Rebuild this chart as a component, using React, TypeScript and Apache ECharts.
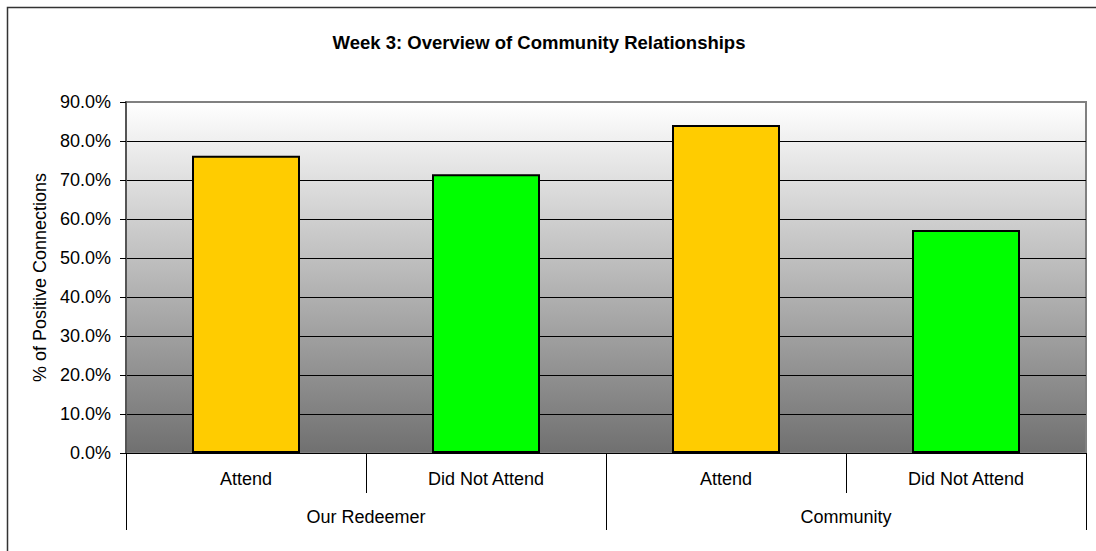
import React, { useEffect, useRef } from "react";
import * as echarts from "echarts";

const categories = ["Attend", "Did Not Attend", "Attend", "Did Not Attend"];
const groups = ["Our Redeemer", "Community"];
const values = [0.762, 0.715, 0.841, 0.572];
const barColors = ["#FFCC00", "#00FF00", "#FFCC00", "#00FF00"];
const yTicks = [0, 0.1, 0.2, 0.3, 0.4, 0.5, 0.6, 0.7, 0.8, 0.9];

const FONT = "Liberation Sans, Arial, sans-serif";

export default function App() {
  const ref = useRef<HTMLDivElement>(null);
  useEffect(() => {
    if (!ref.current) return;
    const chart = echarts.init(ref.current, null, { renderer: "svg" });
    chart.setOption({
      animation: false,
      backgroundColor: "#ffffff",
      textStyle: { fontFamily: FONT },
      title: {
        text: "Week 3: Overview of Community Relationships",
        left: 534,
        textAlign: "center",
        top: 28,
        textStyle: { fontFamily: FONT, fontSize: 18.5, fontWeight: "bold", color: "#000" },
      },
      graphic: [
        {
          type: "rect",
          shape: { x: 7.5, y: 7.5, width: 1200, height: 700 },
          style: { fill: "none", stroke: "#333", lineWidth: 1.5 },
          silent: true,
        },
      ],
      grid: {
        left: 126,
        right: 10,
        top: 102,
        bottom: 98,
        show: true,
        borderColor: "#808080",
        borderWidth: 2,
        backgroundColor: {
          type: "linear",
          x: 0,
          y: 0,
          x2: 0,
          y2: 1,
          colorStops: [
            { offset: 0, color: "#ffffff" },
            { offset: 1, color: "#707070" },
          ],
        },
      },
      xAxis: [
        {
          type: "category",
          data: categories,
          position: "bottom",
          axisLine: { show: true, lineStyle: { color: "#000", width: 1 } },
          axisTick: { show: true, length: 40, lineStyle: { color: "#000" } },
          axisLabel: { margin: 17, fontSize: 18, color: "#000", fontFamily: FONT },
          splitLine: { show: false },
        },
        {
          type: "category",
          data: groups,
          position: "bottom",
          axisLine: { show: false },
          axisTick: { show: true, length: 77, lineStyle: { color: "#000" } },
          axisLabel: { margin: 55, fontSize: 18, color: "#000", fontFamily: FONT },
          splitLine: { show: false },
        },
      ],
      yAxis: {
        type: "value",
        min: 0,
        max: 0.9,
        interval: 0.1,
        name: "% of Positive Connections",
        nameLocation: "middle",
        nameGap: 77,
        nameTextStyle: { fontSize: 18, color: "#000", fontFamily: FONT },
        axisLine: { show: true, lineStyle: { color: "#555", width: 2 } },
        axisTick: { show: true, length: 6, lineStyle: { color: "#000" } },
        axisLabel: {
          margin: 15,
          fontSize: 18,
          color: "#000",
          fontFamily: FONT,
          formatter: (v: number) => {
            const match = yTicks.find((t) => Math.abs(t - v) < 1e-9);
            return ((match ?? v) * 100).toFixed(1) + "%";
          },
        },
        splitLine: {
          show: true,
          lineStyle: {
            color: ["#000", "#000", "#000", "#000", "#000", "#000", "#000", "#000", "#000", "#808080"],
            width: 1,
          },
        },
      },
      series: [
        {
          type: "bar",
          xAxisIndex: 0,
          barWidth: 108,
          data: values.map((v, i) => ({
            value: v,
            itemStyle: { color: barColors[i], borderColor: "#000", borderWidth: 2 },
          })),
        },
      ],
    });
    return () => chart.dispose();
  }, []);
  return (
    <div
      ref={ref}
      style={{ position: "absolute", left: 0, top: 0, width: 1096, height: 551 }}
    />
  );
}
